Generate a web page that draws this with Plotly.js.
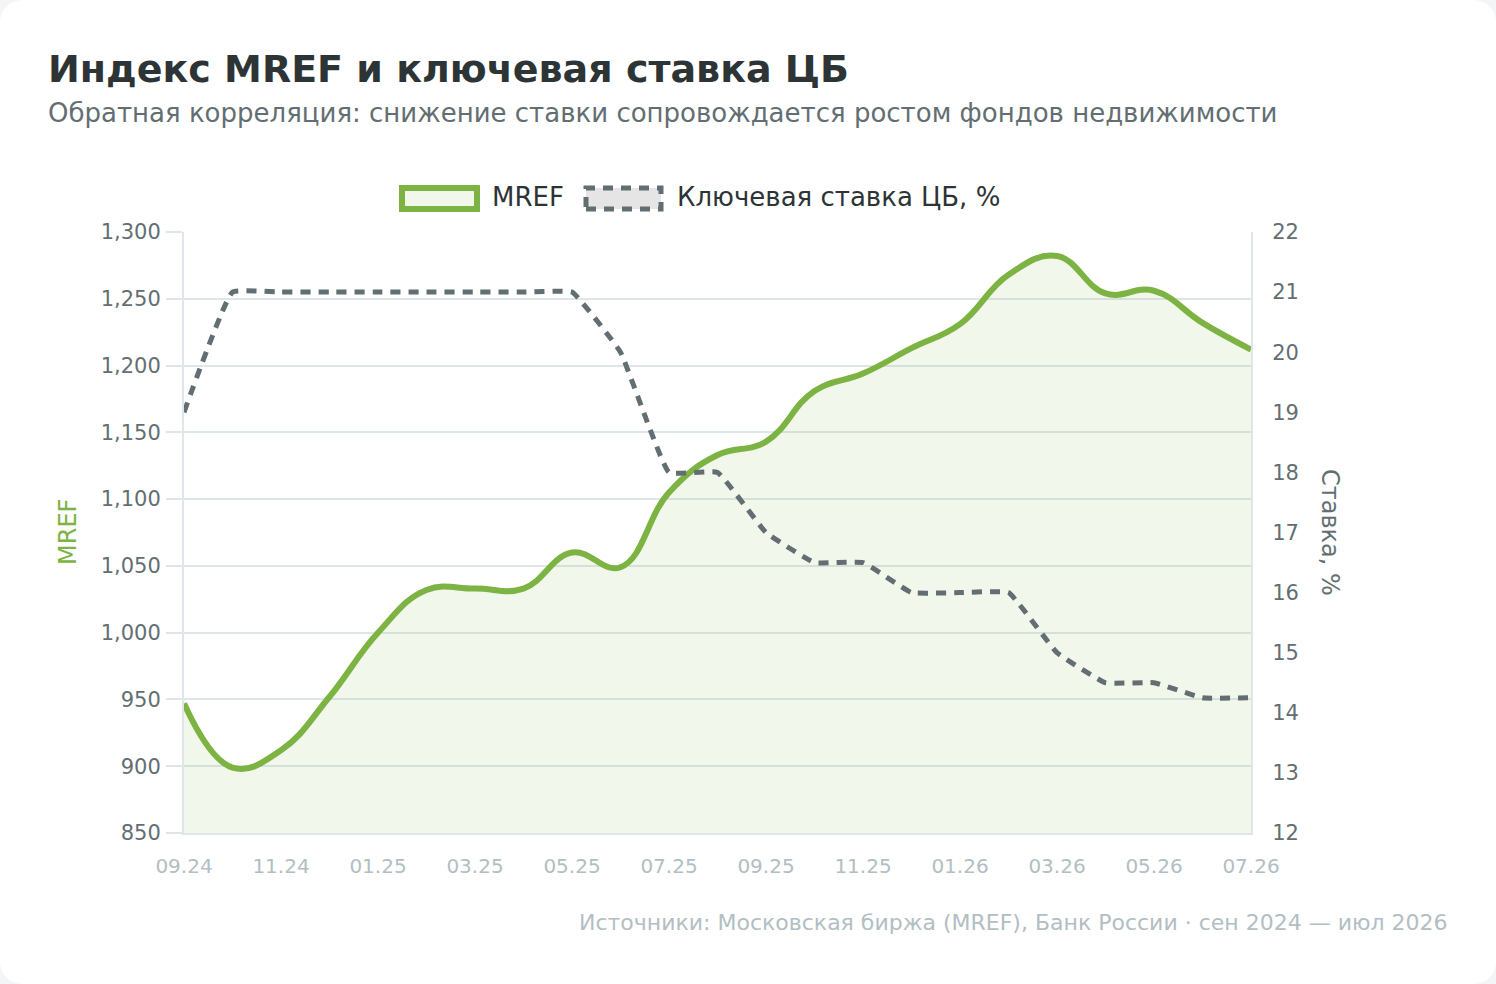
<!DOCTYPE html>
<html>
<head>
<meta charset="utf-8">
<script src="https://cdn.plot.ly/plotly-3.0.1.min.js"></script>
<style>
  html, body { margin: 0; padding: 0; background: #f4f5f6; }
  #card { width: 1496px; height: 984px; background: #fff; border-radius: 22px; overflow: hidden; }
  #chart { width: 1496px; height: 984px; }
</style>
</head>
<body>
<div id="card"><div id="chart"></div></div>
<script>
// месяцы сен 2024 — июл 2026
const months = ['09.24','10.24','11.24','12.24','01.25','02.25','03.25','04.25','05.25','06.25','07.25','08.25',
                '09.25','10.25','11.25','12.25','01.26','02.26','03.26','04.26','05.26','06.26','07.26'];
const mref = [947, 899, 912, 952, 1000, 1032, 1033, 1033, 1060, 1049, 1105, 1133,
              1143, 1181, 1194, 1213, 1231, 1268, 1282, 1254, 1256, 1232, 1212];
const keyRate = [19, 21, 21, 21, 21, 21, 21, 21, 21, 20, 18, 18,
                 17, 16.5, 16.5, 16, 16, 16, 15, 14.5, 14.5, 14.25, 14.25];
const xTicks = months.filter((m, i) => i % 2 === 0);

const green = '#7cb342';
const slate = '#636e72';
const dark = '#2d3436';
const muted = '#b2bec3';
const grid = '#dfe6e9';
const font = 'DejaVu Sans';

// plot area in pixels -> paper coords for texts outside the plot
const L = 184, T = 232, PW = 1067, PH = 601;
const px = x => (x - L) / PW;
const py = y => (T + PH - y) / PH;

var mrefTrace = {
  x: months,
  y: mref,
  name: 'MREF',
  type: 'scatter',
  mode: 'lines',
  line: {color: green, width: 6, shape: 'spline', smoothing: 1.2},
  fill: 'tozeroy',
  fillcolor: 'rgba(124,179,66,0.1)',
  showlegend: false
};

var rateTrace = {
  x: months,
  y: keyRate,
  yaxis: 'y2',
  name: 'Ключевая ставка ЦБ, %',
  type: 'scatter',
  mode: 'lines',
  line: {color: slate, width: 5, dash: '10px,8px', shape: 'spline', smoothing: 0.3},
  showlegend: false
};

function note(text, x, y, size, color, opts) {
  return Object.assign({
    text: text, xref: 'paper', yref: 'paper', x: px(x), y: py(y),
    xanchor: 'left', yanchor: 'middle', showarrow: false,
    font: {family: font, size: size, color: color}
  }, opts || {});
}

var layout = {
  width: 1496,
  height: 984,
  margin: {l: L, r: 1496 - L - PW, t: T, b: 984 - T - PH},
  paper_bgcolor: 'rgba(0,0,0,0)',
  plot_bgcolor: 'rgba(0,0,0,0)',
  font: {family: font, color: slate},
  xaxis: {
    type: 'category',
    range: [0, months.length - 1],
    tickvals: xTicks,
    ticktext: xTicks,
    ticks: '',
    showgrid: false,
    showline: true, linecolor: grid, linewidth: 2,
    tickfont: {size: 20, color: muted},
    ticklabelstandoff: 14,
    layer: 'below traces'
  },
  yaxis: {
    range: [850, 1300],
    dtick: 50,
    tickformat: ',d',
    gridcolor: grid, gridwidth: 2,
    zeroline: false,
    showline: true, linecolor: grid, linewidth: 2,
    ticks: 'outside', ticklen: 16, tickwidth: 2, tickcolor: grid,
    ticklabelstandoff: 1,
    tickfont: {size: 21, color: slate},
    layer: 'below traces'
  },
  yaxis2: {
    overlaying: 'y',
    side: 'right',
    range: [12, 22],
    dtick: 1,
    showgrid: false,
    zeroline: false,
    showline: true, linecolor: grid, linewidth: 2,
    ticks: '',
    ticklabelstandoff: 15,
    tickfont: {size: 21, color: slate},
    layer: 'below traces'
  },
  shapes: [
    {type: 'rect', xref: 'paper', yref: 'paper', x0: px(402), x1: px(477), y0: py(209), y1: py(188),
     line: {color: green, width: 6}, fillcolor: '#f1f7ea'},
    {type: 'rect', xref: 'paper', yref: 'paper', x0: px(586), x1: px(661), y0: py(209), y1: py(188),
     line: {color: slate, width: 5, dash: '10px,8px'}, fillcolor: '#e5e5e5'}
  ],
  annotations: [
    note('<b>Индекс MREF и ключевая ставка ЦБ</b>', 46, 69, 38, dark),
    note('Обратная корреляция: снижение ставки сопровождается ростом фондов недвижимости', 46, 113, 26, slate),
    note('MREF', 490, 197, 26, dark),
    note('Ключевая ставка ЦБ, %', 675, 197, 26, dark),
    note('MREF', 68, 532, 24, green, {xanchor: 'center', textangle: -90}),
    note('Ставка, %', 1330, 532, 24, slate, {xanchor: 'center', textangle: 90}),
    note('Источники: Московская биржа (MREF), Банк России · сен 2024 — июл 2026', 1450, 922, 22, muted, {xanchor: 'right'})
  ]
};

Plotly.newPlot('chart', [mrefTrace, rateTrace], layout, {displayModeBar: false, responsive: false});
</script>
</body>
</html>
